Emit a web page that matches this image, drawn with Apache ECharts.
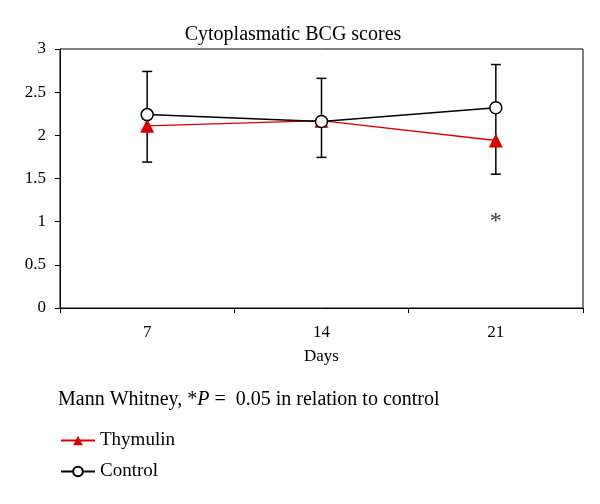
<!DOCTYPE html>
<html><head><meta charset="utf-8">
<script src="https://cdn.jsdelivr.net/npm/echarts@6/dist/echarts.min.js"></script>
<style>html,body{margin:0;padding:0;background:#fff}#c{width:600px;height:504px}</style>
</head><body><div id="c"></div>
<script>
const days = ['7', '14', '21'];
const thymulin = [2.11, 2.17, 1.94];
const control = [2.24, 2.16, 2.32];
const errLow = [1.69, 1.745, 1.55];
const errHigh = [2.74, 2.66, 2.82];
const yTicks = [0, 0.5, 1, 1.5, 2, 2.5, 3];
const signif = [['21', 1.0, '*']];

const FONT = '"Liberation Serif", "DejaVu Serif", serif';
const chart = echarts.init(document.getElementById('c'), null, {renderer: 'canvas'});
const errData = days.map((d, i) => [i, errLow[i], errHigh[i]]);
chart.setOption({
  animation: false,
  backgroundColor: '#fff',
  title: {
    text: 'Cytoplasmatic BCG scores', left: 288, top: 20, textAlign: 'center',
    textStyle: {fontFamily: FONT, fontSize: 20, fontWeight: 'normal', color: '#000'}
  },
  grid: {left: 60, right: 17, top: 49, bottom: 196, show: true, borderColor: '#000', borderWidth: 1},
  xAxis: {
    type: 'category', data: days, boundaryGap: true,
    name: 'Days', nameLocation: 'middle', nameGap: 40,
    nameTextStyle: {fontFamily: FONT, fontSize: 17, color: '#000'},
    axisLine: {lineStyle: {color: '#000', width: 1}},
    axisTick: {show: true, length: 5, lineStyle: {color: '#000'}},
    axisLabel: {fontFamily: FONT, fontSize: 17, color: '#000', margin: 16},
    splitLine: {show: false}
  },
  yAxis: {
    type: 'value', min: yTicks[0], max: yTicks[yTicks.length - 1], interval: 0.5,
    axisLine: {show: true, lineStyle: {color: '#000', width: 1}},
    axisTick: {show: true, length: 5, lineStyle: {color: '#000'}},
    axisLabel: {fontFamily: FONT, fontSize: 17, color: '#000', margin: 14},
    splitLine: {show: false}
  },
  legend: {
    orient: 'vertical', left: 55, top: 426, itemGap: 12, itemWidth: 34, itemHeight: 12,
    textStyle: {fontFamily: FONT, fontSize: 19, color: '#000'},
    data: ['Thymulin', 'Control']
  },
  graphic: [{
    type: 'text', left: 58, top: 390,
    style: {
      text: 'Mann Whitney, *{i|P} =  0.05 in relation to control',
      font: '20px ' + FONT, fill: '#000',
      rich: {i: {fontFamily: FONT, fontSize: 20, fontStyle: 'italic', fill: '#000'}}
    }
  }],
  series: [
    {
      type: 'custom', name: 'err', z: 1, silent: true,
      renderItem: function (params, api) {
        const x = api.value(0);
        const lo = api.coord([x, api.value(1)]);
        const hi = api.coord([x, api.value(2)]);
        const w = 5;
        const st = {stroke: '#000', lineWidth: 1.5};
        return {type: 'group', children: [
          {type: 'line', shape: {x1: lo[0], y1: lo[1], x2: hi[0], y2: hi[1]}, style: st},
          {type: 'line', shape: {x1: lo[0] - w, y1: lo[1], x2: lo[0] + w, y2: lo[1]}, style: st},
          {type: 'line', shape: {x1: hi[0] - w, y1: hi[1], x2: hi[0] + w, y2: hi[1]}, style: st}
        ]};
      },
      data: errData
    },
    {
      name: 'Thymulin', type: 'line', data: thymulin, z: 3,
      symbol: 'triangle', symbolSize: 14, showAllSymbol: true,
      lineStyle: {color: '#d90000', width: 1.3},
      itemStyle: {color: '#d90000', borderWidth: 0}
    },
    {
      name: 'Control', type: 'line', data: control, z: 4,
      symbol: 'circle', symbolSize: 12, showAllSymbol: true,
      lineStyle: {color: '#000', width: 1.5},
      itemStyle: {color: '#fff', borderColor: '#000', borderWidth: 1.5}
    },
    {
      type: 'scatter', name: 'sig', z: 5, symbolSize: 0, silent: true,
      data: signif.map(s => [s[0], s[1], s[2]]),
      label: {show: true, position: 'inside', formatter: p => p.value[2],
        fontFamily: FONT, fontSize: 24, color: '#000'}
    }
  ]
});
</script></body></html>
